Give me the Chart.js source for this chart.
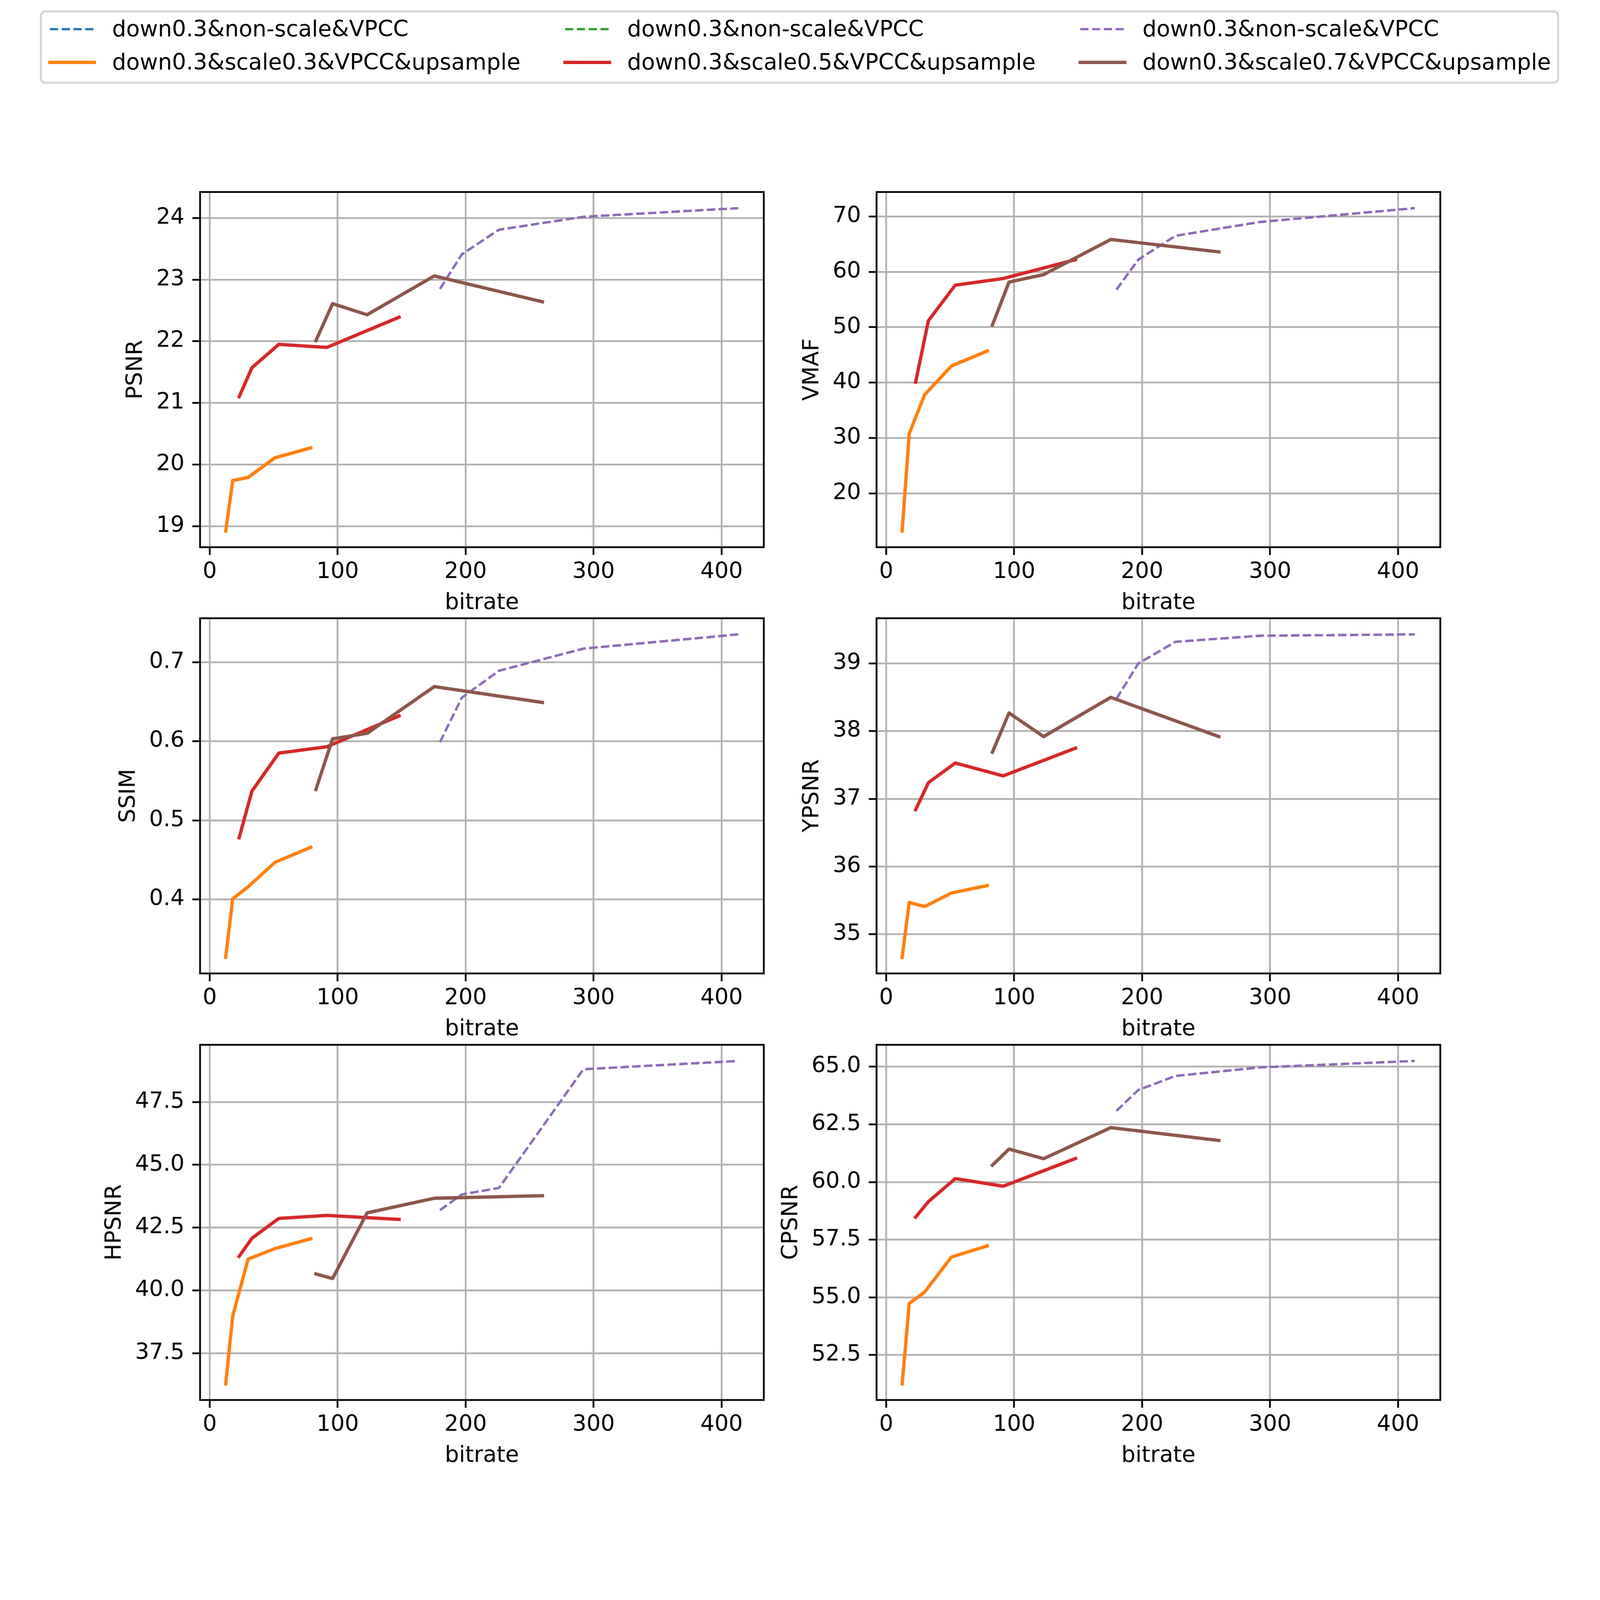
<!DOCTYPE html>
<html>
<head>
<meta charset="utf-8">
<script src="https://cdn.jsdelivr.net/npm/chart.js@4.4.1/dist/chart.umd.min.js"></script>
<style>
  html, body { margin: 0; padding: 0; background: #fff; overflow: hidden; }
  #fig { position: absolute; left: 0; top: 0; width: 5000px; height: 5000px; overflow: hidden; background: #fff; transform-origin: 0 0; }
  #fig canvas { position: absolute; }
</style>
</head>
<body>
<div id="fig"></div>
<script>
// ---- data ----
var seriesLabels = [
  'down0.3&non-scale&VPCC',
  'down0.3&scale0.3&VPCC&upsample',
  'down0.3&non-scale&VPCC',
  'down0.3&scale0.5&VPCC&upsample',
  'down0.3&non-scale&VPCC',
  'down0.3&scale0.7&VPCC&upsample'
];
var seriesColors = ['#1f77b4', '#ff7f0e', '#2ca02c', '#d62728', '#9467bd', '#8c564b'];
var seriesDashed = [true, false, true, false, true, false];

var bitrateNonScale = [180, 197, 226, 292, 413];
var bitrateScale03 = [12.5, 18, 30, 51, 79];
var bitrateScale05 = [23, 33, 54, 91.5, 148];
var bitrateScale07 = [83, 96, 123, 175.5, 260];

var psnrNonScale = [22.85, 23.41, 23.81, 24.02, 24.16];
var psnrScale03 = [18.92, 19.74, 19.79, 20.11, 20.27];
var psnrScale05 = [21.10, 21.57, 21.95, 21.90, 22.39];
var psnrScale07 = [22.01, 22.61, 22.43, 23.06, 22.64];

var vmafNonScale = [56.8, 62.2, 66.5, 69.0, 71.5];
var vmafScale03 = [13.2, 30.8, 37.8, 43.0, 45.7];
var vmafScale05 = [40.1, 51.2, 57.6, 58.8, 62.2];
var vmafScale07 = [50.4, 58.15, 59.5, 65.85, 63.6];

var ssimNonScale = [0.599, 0.655, 0.689, 0.717, 0.735];
var ssimScale03 = [0.327, 0.401, 0.416, 0.447, 0.466];
var ssimScale05 = [0.478, 0.537, 0.585, 0.593, 0.632];
var ssimScale07 = [0.539, 0.603, 0.610, 0.669, 0.649];

var ypsnrNonScale = [38.48, 39.00, 39.32, 39.41, 39.43];
var ypsnrScale03 = [34.66, 35.47, 35.41, 35.61, 35.72];
var ypsnrScale05 = [36.84, 37.24, 37.53, 37.34, 37.75];
var ypsnrScale07 = [37.69, 38.27, 37.92, 38.50, 37.92];

var hpsnrNonScale = [43.20, 43.82, 44.08, 48.80, 49.13];
var hpsnrScale03 = [36.29, 38.99, 41.25, 41.67, 42.06];
var hpsnrScale05 = [41.36, 42.08, 42.87, 42.99, 42.83];
var hpsnrScale07 = [40.66, 40.48, 43.09, 43.67, 43.77];

var cpsnrNonScale = [63.09, 63.99, 64.60, 64.97, 65.25];
var cpsnrScale03 = [51.25, 54.74, 55.23, 56.75, 57.23];
var cpsnrScale05 = [58.48, 59.15, 60.15, 59.82, 61.02];
var cpsnrScale07 = [60.73, 61.43, 61.01, 62.36, 61.80];

var xTicks = [0, 100, 200, 300, 400];
var psnrTicks = [19, 20, 21, 22, 23, 24];
var vmafTicks = [20, 30, 40, 50, 60, 70];
var ssimTicks = [0.4, 0.5, 0.6, 0.7];
var ypsnrTicks = [35, 36, 37, 38, 39];
var hpsnrTicks = [37.5, 40, 42.5, 45, 47.5];
var cpsnrTicks = [52.5, 55, 57.5, 60, 62.5, 65];

var metricNames = ['PSNR', 'VMAF', 'SSIM', 'YPSNR', 'HPSNR', 'CPSNR'];
var metricTicks = [psnrTicks, vmafTicks, ssimTicks, ypsnrTicks, hpsnrTicks, cpsnrTicks];
var metricDecimals = [0, 0, 1, 0, 1, 1];
var seriesBitrates = [bitrateNonScale, bitrateScale03, bitrateNonScale, bitrateScale05, bitrateNonScale, bitrateScale07];
var metricSeries = [
  [psnrNonScale, psnrScale03, psnrNonScale, psnrScale05, psnrNonScale, psnrScale07],
  [vmafNonScale, vmafScale03, vmafNonScale, vmafScale05, vmafNonScale, vmafScale07],
  [ssimNonScale, ssimScale03, ssimNonScale, ssimScale05, ssimNonScale, ssimScale07],
  [ypsnrNonScale, ypsnrScale03, ypsnrNonScale, ypsnrScale05, ypsnrNonScale, ypsnrScale07],
  [hpsnrNonScale, hpsnrScale03, hpsnrNonScale, hpsnrScale05, hpsnrNonScale, hpsnrScale07],
  [cpsnrNonScale, cpsnrScale03, cpsnrNonScale, cpsnrScale05, cpsnrNonScale, cpsnrScale07]
];

// ---- layout, in figure pixels (10pt @ 500 dpi) ----
var FS = 69.44;
var LW = 10.42, LW_DASH = 6.94, SPINE = 5.56;
var DASH = [25.7, 11.1];
var AX_LEFT = [625, 2739], AX_TOP = [600, 1932, 3265], AX_W = 1761, AX_H = 1110;
var PAD_L = 500, PAD_T = 80, PAD_R = 80, PAD_B = 320;
var LEG_X = 128, LEG_Y = 35.5, LEG_W = 4741, LEG_H = 223, LEG_COL = 1610, LEG_ROW = 104;

Chart.defaults.font.family = "'DejaVu Sans'";
Chart.defaults.font.size = FS;
Chart.defaults.color = '#000';

var fig = document.getElementById('fig');

// the figure is laid out at 5000px and scaled to whatever the viewport really is
var S = Math.min(window.innerWidth, window.innerHeight) / 5000;
if (!(S > 0)) S = 1;
fig.style.transform = 'scale(' + S + ')';
var RATIO = (window.devicePixelRatio || 1) * S;

// matplotlib-style autoscale: data range plus 5% each side
function padRange(arrs) {
  var all = [].concat.apply([], arrs);
  var lo = Math.min.apply(null, all), hi = Math.max.apply(null, all);
  var m = (hi - lo) * 0.05;
  return [lo - m, hi + m];
}
var xRange = padRange(seriesBitrates);

var mctx = document.createElement('canvas').getContext('2d');
mctx.font = FS + "px 'DejaVu Sans'";

var framePlugin = {
  id: 'frame',
  afterDatasetsDraw: function (chart) {
    var a = chart.chartArea, ctx = chart.ctx;
    ctx.save();
    ctx.strokeStyle = '#000';
    ctx.lineWidth = SPINE;
    ctx.strokeRect(a.left, a.top, a.right - a.left, a.bottom - a.top);
    ctx.restore();
  }
};

function gridOpts() {
  return {
    color: '#b0b0b0', lineWidth: SPINE,
    drawTicks: true, tickColor: '#000', tickWidth: SPINE, tickLength: 24.3
  };
}

metricNames.forEach(function (name, k) {
  var col = k % 2, row = Math.floor(k / 2);
  var w = AX_W + PAD_L + PAD_R, h = AX_H + PAD_T + PAD_B;
  var cv = document.createElement('canvas');
  cv.width = w;
  cv.height = h;
  cv.style.left = (AX_LEFT[col] - PAD_L) + 'px';
  cv.style.top = (AX_TOP[row] - PAD_T) + 'px';
  cv.style.width = w + 'px';
  cv.style.height = h + 'px';
  fig.appendChild(cv);

  var yRange = padRange(metricSeries[k]);
  var ticks = metricTicks[k], dec = metricDecimals[k];
  var labelW = Math.max.apply(null, ticks.map(function (v) { return mctx.measureText(v.toFixed(dec)).width; }));
  var yTitlePad = PAD_L - (111 + labelW) - FS * 0.6;

  new Chart(cv, {
    type: 'line',
    data: {
      datasets: seriesLabels.map(function (lab, i) {
        return {
          label: lab,
          data: seriesBitrates[i].map(function (x, j) { return { x: x, y: metricSeries[k][i][j] }; }),
          borderColor: seriesColors[i],
          backgroundColor: seriesColors[i],
          borderWidth: seriesDashed[i] ? LW_DASH : LW,
          borderDash: seriesDashed[i] ? DASH : [],
          borderCapStyle: seriesDashed[i] ? 'butt' : 'square',
          borderJoinStyle: 'round',
          pointRadius: 0,
          pointHoverRadius: 0,
          fill: false,
          tension: 0,
          order: seriesLabels.length - 1 - i
        };
      })
    },
    options: {
      responsive: false,
      devicePixelRatio: RATIO,
      animation: false,
      events: [],
      layout: { padding: { left: 0, top: PAD_T, right: PAD_R, bottom: 0 } },
      plugins: { legend: { display: false }, tooltip: { enabled: false } },
      scales: {
        x: {
          type: 'linear',
          min: xRange[0], max: xRange[1],
          afterFit: function (s) { s.height = PAD_B; },
          afterBuildTicks: function (s) { s.ticks = xTicks.map(function (v) { return { value: v }; }); },
          ticks: { padding: 13, maxRotation: 0, autoSkip: false, color: '#000' },
          grid: gridOpts(),
          border: { display: false },
          title: { display: true, text: 'bitrate', color: '#000', font: { size: FS, lineHeight: 1.2 },
                   padding: { top: 0, bottom: PAD_B - 175 - FS * 0.6 } }
        },
        y: {
          type: 'linear',
          min: yRange[0], max: yRange[1],
          afterFit: function (s) { s.width = PAD_L; },
          afterBuildTicks: function (s) { s.ticks = ticks.map(function (v) { return { value: v }; }); },
          ticks: { padding: 24.3, autoSkip: false, color: '#000',
                   callback: function (v) { return Number(v).toFixed(dec); } },
          grid: gridOpts(),
          border: { display: false },
          title: { display: true, text: name, color: '#000', font: { size: FS, lineHeight: 1.2 },
                   padding: { top: yTitlePad, bottom: 0 } }
        }
      }
    },
    plugins: [framePlugin]
  });
});

// ---- figure legend (3 columns, column-major like matplotlib) ----
var NS = 'http://www.w3.org/2000/svg';
var svg = document.createElementNS(NS, 'svg');
svg.setAttribute('width', 5000);
svg.setAttribute('height', 300);
svg.style.position = 'absolute';
svg.style.left = '0px';
svg.style.top = '0px';

var box = document.createElementNS(NS, 'rect');
box.setAttribute('x', LEG_X);
box.setAttribute('y', LEG_Y);
box.setAttribute('width', LEG_W);
box.setAttribute('height', LEG_H);
box.setAttribute('rx', 13.9);
box.setAttribute('ry', 13.9);
box.setAttribute('fill', '#fff');
box.setAttribute('stroke', '#d6d6d6');
box.setAttribute('stroke-width', 6.94);
svg.appendChild(box);

seriesLabels.forEach(function (lab, i) {
  var c = Math.floor(i / 2), r = i % 2;
  var base = 113.5 + r * LEG_ROW;
  var x1 = LEG_X + 27.8 + c * LEG_COL;
  var ln = document.createElementNS(NS, 'line');
  ln.setAttribute('x1', x1);
  ln.setAttribute('x2', x1 + 138.9);
  ln.setAttribute('y1', base - 22.5);
  ln.setAttribute('y2', base - 22.5);
  ln.setAttribute('stroke', seriesColors[i]);
  if (seriesDashed[i]) {
    ln.setAttribute('stroke-width', LW_DASH);
    ln.setAttribute('stroke-dasharray', DASH.join(' '));
    ln.setAttribute('stroke-linecap', 'butt');
  } else {
    ln.setAttribute('stroke-width', LW);
    ln.setAttribute('stroke-linecap', 'square');
  }
  svg.appendChild(ln);

  var tx = document.createElementNS(NS, 'text');
  tx.setAttribute('x', x1 + 138.9 + 55.5);
  tx.setAttribute('y', base);
  tx.setAttribute('font-family', 'DejaVu Sans');
  tx.setAttribute('font-size', FS);
  tx.setAttribute('fill', '#000');
  tx.textContent = lab;
  svg.appendChild(tx);
});
fig.appendChild(svg);
</script>
</body>
</html>
